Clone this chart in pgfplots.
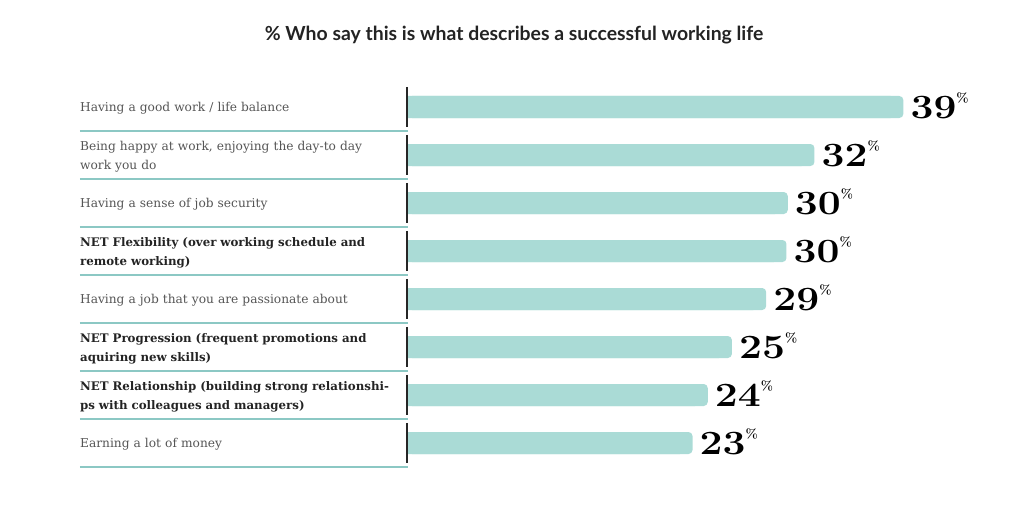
\documentclass[border=0pt]{standalone}
\usepackage{fontspec}
\usepackage{pgfplots}
\pgfplotsset{compat=1.18}
\usepackage{pgfplotstable}
\newfontfamily\labfont{DejaVu Serif}
\newfontfamily\titfont{Lato}
\definecolor{barc}{RGB}{170,219,214}
\definecolor{sepc}{RGB}{140,200,196}
\definecolor{labc}{RGB}{85,85,85}
\definecolor{boldc}{RGB}{35,35,35}
\pgfplotstableread{
y v lab
1 39.0 39
2 32.0 32
3 29.9 30
4 29.8 30
5 28.2 29
6 25.5 25
7 23.6 24
8 22.4 23
}\data
\begin{document}
\begin{tikzpicture}
\begin{axis}[
 scale only axis, width=584.2pt, height=384pt,
 xmin=0, xmax=46, ymin=0.5, ymax=8.5, y dir=reverse,
 hide axis, clip=false,
 xbar, bar width=22pt, bar shift=0pt,
]
\path (axis cs:-32.126,-1.229) rectangle (axis cs:48.5,9.3125);
\addplot[fill=barc, draw=none, rounded corners=4pt, point meta=explicit symbolic,
  nodes near coords={\scalebox{1.2}[1]{\pgfplotspointmeta}\raisebox{1.05ex}{\fontsize{13}{13}\selectfont\bfseries\%}},
  nodes near coords style={font=\fontsize{34}{34}\selectfont\bfseries, anchor=base west, xshift=7pt, yshift=-11pt, inner sep=0pt, text=black}]
  table[x=v, y=y, meta=lab] {\data};
\addplot[fill=barc, draw=none] table[x expr=\thisrow{v}-1, y=y] {\data};
\pgfplotsinvokeforeach{1,...,8}{\draw[sepc, line width=1.3pt] (axis cs:-25.83,#1+0.5) -- (axis cs:0,#1+0.5);}
\pgfplotsinvokeforeach{1,...,8}{\draw[black!85, line width=2.2pt] (axis cs:-0.1,#1-0.42) -- (axis cs:-0.1,#1+0.42);}
\tikzset{lab/.style={anchor=west, yshift=-1.5pt, text width=330pt, align=left, font=\labfont\fontsize{12.2}{19}\selectfont, text=labc, inner sep=0pt},
 blab/.style={lab, font=\labfont\bfseries\fontsize{11.8}{19}\selectfont, text=boldc}}
\node[lab] at (axis cs:-25.83,1) {Having a good work / life balance};
\node[lab] at (axis cs:-25.83,2) {Being happy at work, enjoying the day-to day\\work you do};
\node[lab] at (axis cs:-25.83,3) {Having a sense of job security};
\node[blab] at (axis cs:-25.83,4) {NET Flexibility (over working schedule and\\remote working)};
\node[lab] at (axis cs:-25.83,5) {Having a job that you are passionate about};
\node[blab] at (axis cs:-25.83,6) {NET Progression (frequent promotions and\\aquiring new skills)};
\node[blab] at (axis cs:-25.83,7) {NET Relationship (building strong relationshi-\\ps with colleagues and managers)};
\node[lab] at (axis cs:-25.83,8) {Earning a lot of money};
\node[font=\titfont\bfseries\fontsize{19.4}{22}\selectfont, text=boldc] at (axis cs:8.35,-0.5) {\% Who say this is what describes a successful working life};
\end{axis}
\end{tikzpicture}
\end{document}
